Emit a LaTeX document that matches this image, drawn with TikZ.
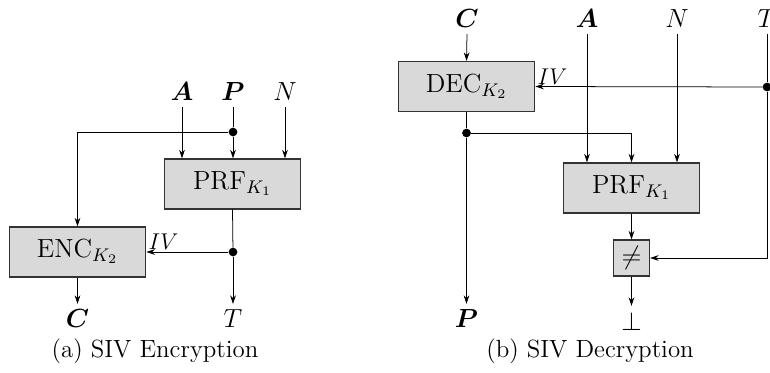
\RequirePackage{fix-cm}
\documentclass[tikz,border=0pt]{standalone}
\usepackage{bm}
\usetikzlibrary{arrows.meta}
\begin{document}
\begin{tikzpicture}[
    x=0.185cm, y=0.185cm,
    font=\fontsize{13.8}{16}\selectfont,
    box/.style={draw=black!80, semithick, fill=black!15, minimum width=2.53cm, minimum height=0.925cm},
    cmp/.style={draw=black!80, semithick, fill=black!15, minimum size=0.666cm, inner sep=0pt},
    lbl/.style={inner sep=3pt},
    captext/.style={anchor=base, font=\fontsize{13.1}{15}\selectfont},
    dot/.style={circle, fill, inner sep=0pt, minimum size=4.6pt},
    arrow/.style={-{Stealth[length=4.5pt, width=3pt]}}
]
\useasboundingbox (0,0) rectangle (77,37.2);

% (a) encryption
\node[lbl] at (18.2,28.0) (a1) {$\bm{A}$};
\node[lbl] at (23.3,28.0) (p1) {$\bm{P}$};
\node[lbl] at (28.5,28.0) (n1) {$N$};
\node[box] at (23.25,18.8) (prf1) {$\mathrm{PRF}_{K_1}$};
\node[box] at (7.75,12.0) (enc) {$\mathrm{ENC}_{K_2}$};
\node[dot] at (23.3,24.0) (pdot1) {};
\node[dot] at (23.3,12.0) (ivdot1) {};
\node[lbl] at (7.75,5.3) (c1) {$\bm{C}$};
\node[lbl] at (23.3,5.3) (t1) {$T$};
\node[captext] at (15.5,1.5) (capa) {(a) SIV Encryption};

\draw[arrow] (a1.south) -- (a1 |- prf1.north);
\draw (p1.south) -- (pdot1);
\draw[arrow] (pdot1) -- (pdot1 |- prf1.north);
\draw[arrow] (n1.south) -- (n1 |- prf1.north);
\draw[arrow] (pdot1) -| (enc.north);
\draw (prf1.south) -- (ivdot1);
\draw[arrow] (ivdot1) -- (enc.east) node[pos=1, above right, inner sep=1pt, font=\large] {$IV$};
\draw[arrow] (ivdot1) -- (t1.north);
\draw[arrow] (enc.south) -- (c1.north);

% (b) decryption
\node[lbl] at (46.7,35.3) (c2) {$\bm{C}$};
\node[lbl] at (58.7,35.3) (a2) {$\bm{A}$};
\node[lbl] at (67.7,35.3) (n2) {$N$};
\node[lbl] at (76.7,35.3) (t2) {$T$};
\node[box] at (46.65,28.55) (dec) {$\mathrm{DEC}_{K_2}$};
\node[dot] at (76.7,28.5) (tdot2) {};
\node[dot] at (46.65,23.9) (pdot2) {};
\node[box] at (63.15,18.4) (prf2) {$\mathrm{PRF}_{K_1}$};
\node[cmp] at (63.15,11.4) (neq) {$\neq$};
\node[lbl] at (46.65,5.3) (p2) {$\bm{P}$};
\node[lbl] at (63.15,5.1) (bot) {$\bot$};
\node[captext] at (59.0,1.5) (capb) {(b) SIV Decryption};

\draw[arrow] (c2.south) -- (dec.north);
\draw (t2.south) -- (tdot2);
\draw[arrow] (tdot2) -- (dec.east) node[pos=1, above right, inner sep=1pt, font=\large] {$IV$};
\draw (dec.south) -- (pdot2);
\draw[arrow] (pdot2) -- (p2.north);
\draw[arrow] (pdot2) -| (prf2.north);
\draw[arrow] (a2.south) -- (a2 |- prf2.north);
\draw[arrow] (n2.south) -- (n2 |- prf2.north);
\draw[arrow] (prf2.south) -- (neq.north);
\draw[arrow] (tdot2) |- (neq.east);
\draw[arrow] (neq.south) -- (bot.north);
\end{tikzpicture}
\end{document}
